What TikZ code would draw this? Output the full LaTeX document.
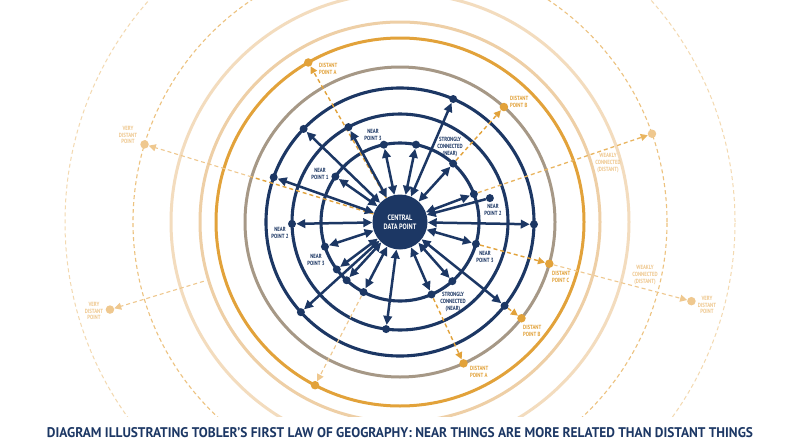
\documentclass[tikz,border=0pt]{standalone}
\usepackage{fontspec}
\setmainfont{PT Sans}
\newfontfamily\condf[FakeStretch=0.8]{PT Sans}
\usetikzlibrary{arrows.meta,calc}
\definecolor{navy}{HTML}{1C3764}
\definecolor{orng}{HTML}{E2A23A}
\definecolor{taupe}{HTML}{A69886}
\definecolor{ltan}{HTML}{EECFA6}
\definecolor{ptan}{HTML}{F3DCBE}
\definecolor{dasha}{HTML}{EDC27F}
\definecolor{dashb}{HTML}{F3D9B0}
\definecolor{midor}{HTML}{E9B560}
\definecolor{lightor}{HTML}{EFC88F}
\pgfdeclarelayer{bg}
\pgfdeclarelayer{rings}
\pgfdeclarelayer{conn}
\pgfsetlayers{bg,rings,conn,main}
\begin{document}
\begin{tikzpicture}[x=1pt,y=-1pt,
  ndot/.style={circle,fill=navy,inner sep=0pt,minimum size=8pt},
  odot/.style={circle,fill=orng,inner sep=0pt,minimum size=8.5pt},
  ldot/.style={circle,fill=lightor,inner sep=0pt,minimum size=8.5pt},
  cnode/.style={circle,fill=navy,inner sep=0pt,minimum size=55pt,text=white,align=center,
    font=\condf\bfseries\fontsize{7.8}{8.6}\selectfont},
  biarrow/.style={draw=navy,line width=2.5pt,{Triangle[length=9pt,width=8.5pt]}-{Triangle[length=9pt,width=8.5pt]}},
  odash/.style={draw=orng,line width=1.4pt,dash pattern=on 4pt off 3pt,-{Triangle[length=7pt,width=7pt]}},
  mdash/.style={draw=midor,line width=1.3pt,dash pattern=on 4pt off 3pt,-{Triangle[length=7pt,width=7pt]}},
  ldash/.style={draw=lightor,line width=1.1pt,dash pattern=on 4pt off 3pt,-{Triangle[length=7pt,width=7pt]}},
  navring/.style={draw=navy,line width=3.1pt},
  nlbl/.style={text=navy,align=center,inner sep=0pt,font=\condf\bfseries\fontsize{6}{6.6}\selectfont},
  olbl/.style={text=orng,align=left,inner sep=0pt,anchor=west,font=\condf\bfseries\fontsize{6}{6.6}\selectfont},
  llbl/.style={text=lightor,align=center,inner sep=0pt,font=\condf\bfseries\fontsize{6}{6.6}\selectfont},
]
\useasboundingbox (0,0) rectangle (800,447);
\begin{pgfonlayer}{bg}
\fill[white] (0,0) rectangle (800,447);
\end{pgfonlayer}
\coordinate (O) at (400,222);

% navy dots on rings
\node[ndot] (r3a) at ($(O)+(-136:134)$) {};
\node[ndot] (r3b) at ($(O)+(-160.5:134)$) {};
\node[ndot] (r3c) at ($(O)+(-66.6:134)$) {};
\node[ndot] (r3d) at ($(O)+(1:134)$) {};
\node[ndot] (r3e) at ($(O)+(38.7:134)$) {};
\node[ndot] (r3f) at ($(O)+(137.7:134)$) {};
\node[ndot] (r2a) at ($(O)+(-118.5:108)$) {};
\node[ndot] (r2b) at ($(O)+(179:108)$) {};
\node[ndot] (r2c) at ($(O)+(97.4:108)$) {};
\node[ndot] (r1a) at ($(O)+(-101.8:79)$) {};
\node[ndot] (r1b) at ($(O)+(-78.3:79)$) {};
\node[ndot] (r1c) at ($(O)+(-144.9:79)$) {};
\node[ndot] (r1d) at ($(O)+(-47.7:79)$) {};
\node[ndot] (r1e) at ($(O)+(-20.7:79)$) {};
\node[ndot] (r1f) at ($(O)+(16.1:79)$) {};
\node[ndot] (r1g) at ($(O)+(48.5:79)$) {};
\node[ndot] (r1h) at ($(O)+(66.5:79)$) {};
\node[ndot] (r1i) at ($(O)+(161.8:79)$) {};
\node[ndot] (r1j) at ($(O)+(143.1:79)$) {};
\node[ndot] (r1k) at ($(O)+(132.5:79)$) {};
\node[ndot] (r1l) at ($(O)+(117.5:79)$) {};
\node[ndot] (x1) at ($(O)+(-14.9:93)$) {};

% orange / light dots
\node[odot] (DAt) at ($(O)+(-119.9:184)$) {};
\node[odot] (DBt) at ($(O)+(-47.9:155)$) {};
\node[ldot] (W1) at ($(O)+(-19.3:267)$) {};
\node[odot] (DC) at ($(O)+(15.6:155)$) {};
\node[ldot] (VDr) at ($(O)+(15.2:302)$) {};
\node[odot] (DAb) at ($(O)+(65.8:155)$) {};
\node[odot] (DBb) at ($(O)+(38.4:155)$) {};
\node[odot] (DBL) at ($(O)+(117.5:184)$) {};
\node[ldot] (VDul) at ($(O)+(-163.1:267)$) {};
\node[ldot] (VDll) at ($(O)+(163.2:303)$) {};
\coordinate (VDulmid) at ($(O)+(-163.1:155)$);
\coordinate (VDllst) at ($(O)+(163.2:205)$);

% central node
\node[cnode] (C) at (O) {CENTRAL\\DATA POINT};

% rings
\begin{pgfonlayer}{rings}
\begin{scope}
\clip (0,0) rectangle (800,416);
\draw[draw=dashb,line width=1pt,dash pattern=on 4pt off 3pt] (O) circle[radius=335pt];
\draw[draw=dasha,line width=1.1pt,dash pattern=on 4pt off 3pt] (O) circle[radius=267pt];
\draw[draw=ptan,line width=3pt] (O) circle[radius=229pt];
\draw[draw=ltan,line width=3pt] (O) circle[radius=200pt];
\draw[draw=orng,line width=3pt] (O) circle[radius=184pt];
\draw[draw=taupe,line width=3pt] (O) circle[radius=155pt];
\draw[navring] (O) circle[radius=134pt];
\draw[navring] (O) circle[radius=108pt];
\draw[navring] (O) circle[radius=79pt];
\end{scope}
\end{pgfonlayer}

% connectors
\begin{pgfonlayer}{conn}
\draw[odash] (r1d) -- (DBt);
\draw[mdash] (r1e) -- (W1);
\draw[odash] (r1f) -- (DC);
\draw[ldash] (DC) -- (VDr);
\draw[odash] (r1h) -- (DAb);
\draw[odash] (r3e) -- (DBb);
\draw[ldash] (r1l) -- (DBL);
\draw[odash] (C) -- (DAt);
\draw[draw=orng,line width=1.4pt,dash pattern=on 4pt off 3pt] (C) -- (VDulmid);
\draw[ldash] (VDulmid) -- (VDul);
\draw[ldash] (VDllst) -- (VDll);

\foreach \d in {r3a,r3b,r3c,r3d,r3e,r3f,r2a,r2b,r2c,r1a,r1b,r1c,r1d,r1e,r1f,r1g,r1h,r1i,r1j,r1k,r1l}
  \draw[biarrow] (C) -- (\d);
\draw[draw=navy,line width=2.5pt,{Triangle[length=9pt,width=8.5pt]}-] (C) -- (x1);
\end{pgfonlayer}

% navy labels
\node[nlbl] (l1) at (373,135) {NEAR\\POINT 3};
\node[nlbl] (l2) at (320,174) {NEAR\\POINT 1};
\node[nlbl] (l3) at (280,233) {NEAR\\POINT 2};
\node[nlbl] (l4) at (316,260) {NEAR\\POINT 3};
\node[nlbl] (l5) at (450,147) {STRONGLY\\CONNECTED\\(NEAR)};
\node[nlbl] (l6) at (493,210) {NEAR\\POINT 2};
\node[nlbl] (l7) at (485,257) {NEAR\\POINT 3};
\node[nlbl] (l8) at (453,302) {STRONGLY\\CONNECTED\\(NEAR)};

% orange labels
\node[olbl] (m1) at (319,69) {DISTANT\\POINT A};
\node[olbl] (m2) at (510,102) {DISTANT\\POINT B};
\node[olbl] (m3) at (552,277) {DISTANT\\POINT C};
\node[olbl] (m4) at (523,331) {DISTANT\\POINT B};
\node[olbl] (m5) at (470,372) {DISTANT\\POINT A};
\node[llbl] (m6) at (128,135) {VERY\\DISTANT\\POINT};
\node[llbl] (m7) at (94,311) {VERY\\DISTANT\\POINT};
\node[llbl] (m8) at (707,305) {VERY\\DISTANT\\POINT};
\node[llbl] (m9) at (608,163) {WEAKLY\\CONNECTED\\(DISTANT)};
\node[llbl] (m10) at (645,275) {WEAKLY\\CONNECTED\\(DISTANT)};

% title
\node[text=navy,inner sep=0pt] (title) at (400,433)
  {\resizebox{706pt}{10pt}{\condf\bfseries DIAGRAM ILLUSTRATING TOBLER’S FIRST LAW OF GEOGRAPHY: NEAR THINGS ARE MORE RELATED THAN DISTANT THINGS}};
\end{tikzpicture}
\end{document}
